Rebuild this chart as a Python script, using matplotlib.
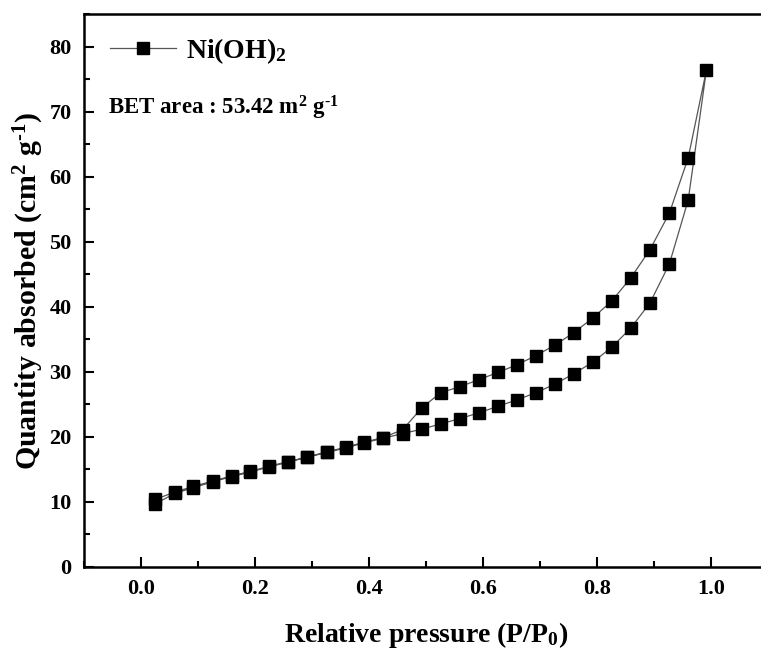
import matplotlib
matplotlib.use('Agg')
import matplotlib.pyplot as plt
from matplotlib.ticker import MultipleLocator

# relative pressure points (same for both branches)
p_rel = [0.025, 0.059, 0.092, 0.126, 0.159, 0.192, 0.225, 0.258, 0.292, 0.326,
         0.359, 0.392, 0.425, 0.459, 0.493, 0.526, 0.559, 0.593, 0.626, 0.660,
         0.693, 0.726, 0.759, 0.793, 0.826, 0.859, 0.893, 0.927, 0.960, 0.992]
adsorption = [9.7, 11.3, 12.2, 13.1, 13.9, 14.6, 15.4, 16.1, 16.9, 17.6,
              18.3, 19.1, 19.8, 20.5, 21.2, 22.0, 22.8, 23.7, 24.7, 25.7,
              26.8, 28.1, 29.7, 31.5, 33.8, 36.7, 40.6, 46.6, 56.4, 76.4]
desorption = [10.4, 11.5, 12.4, 13.2, 14.0, 14.7, 15.5, 16.2, 16.9, 17.7,
              18.4, 19.2, 19.9, 21.1, 24.5, 26.8, 27.7, 28.8, 29.9, 31.1,
              32.5, 34.1, 36.0, 38.3, 40.9, 44.4, 48.8, 54.4, 62.9, 76.4]

label = r'Ni(OH)$_\mathbf{2}$'
note = r'BET area : 53.42 m$^\mathbf{2}$ g$^{\text{-}\mathbf{1}}$'
xlab = r'Relative pressure (P/P$_\mathbf{0}$)'
ylab = r'Quantity absorbed (cm$^\mathbf{2}$ g$^{\text{-}\mathbf{1}}$)'

plt.rcParams['font.family'] = 'Liberation Serif'
plt.rcParams['font.weight'] = 'bold'
plt.rcParams['axes.labelweight'] = 'bold'
plt.rcParams['mathtext.fontset'] = 'custom'
plt.rcParams['mathtext.rm'] = 'Liberation Serif:bold'
plt.rcParams['mathtext.bf'] = 'Liberation Serif:bold'
plt.rcParams['mathtext.it'] = 'Liberation Serif:bold'
plt.rcParams['mathtext.default'] = 'bf'

fig = plt.figure(figsize=(7.61, 6.53), dpi=100)
ax = fig.add_axes([84 / 761, (653 - 567) / 653, 684 / 761, 553 / 653])

# one continuous loop: adsorption up, desorption back down
xs = p_rel + p_rel[::-1][1:]
ys = adsorption + desorption[::-1][1:]
ax.plot(xs, ys, color='#555555', lw=0.9, marker='s', ms=8.5,
        mfc='black', mec='black', label=label)

ax.set_xlim(-0.1, 1.1)
ax.set_ylim(0, 85)
ax.xaxis.set_major_locator(MultipleLocator(0.2))
ax.xaxis.set_minor_locator(MultipleLocator(0.1))
ax.yaxis.set_major_locator(MultipleLocator(10))
ax.yaxis.set_minor_locator(MultipleLocator(5))
ax.xaxis.set_major_formatter(plt.FuncFormatter(lambda v, _: '%.1f' % v))

ax.tick_params(which='major', direction='in', length=7.5, width=1.5, labelsize=16, pad=9)
ax.tick_params(which='minor', direction='in', length=4, width=1.5)
ax.tick_params(top=False, right=False)
for s in ax.spines.values():
    s.set_linewidth(1.8)

ax.set_xlabel(xlab, fontsize=20, labelpad=15)
ax.set_ylabel(ylab, fontsize=21.5)
ax.yaxis.set_label_coords(-0.056, 0.5)

ax.legend(loc='upper left', bbox_to_anchor=(0.005, 1.0), frameon=False,
          fontsize=20, handlelength=2.4, handletextpad=0.35, borderaxespad=0.4)
ax.text(0.035, 0.83, note, transform=ax.transAxes, fontsize=16.5, va='center', ha='left')

fig.savefig('out.png', dpi=100)
